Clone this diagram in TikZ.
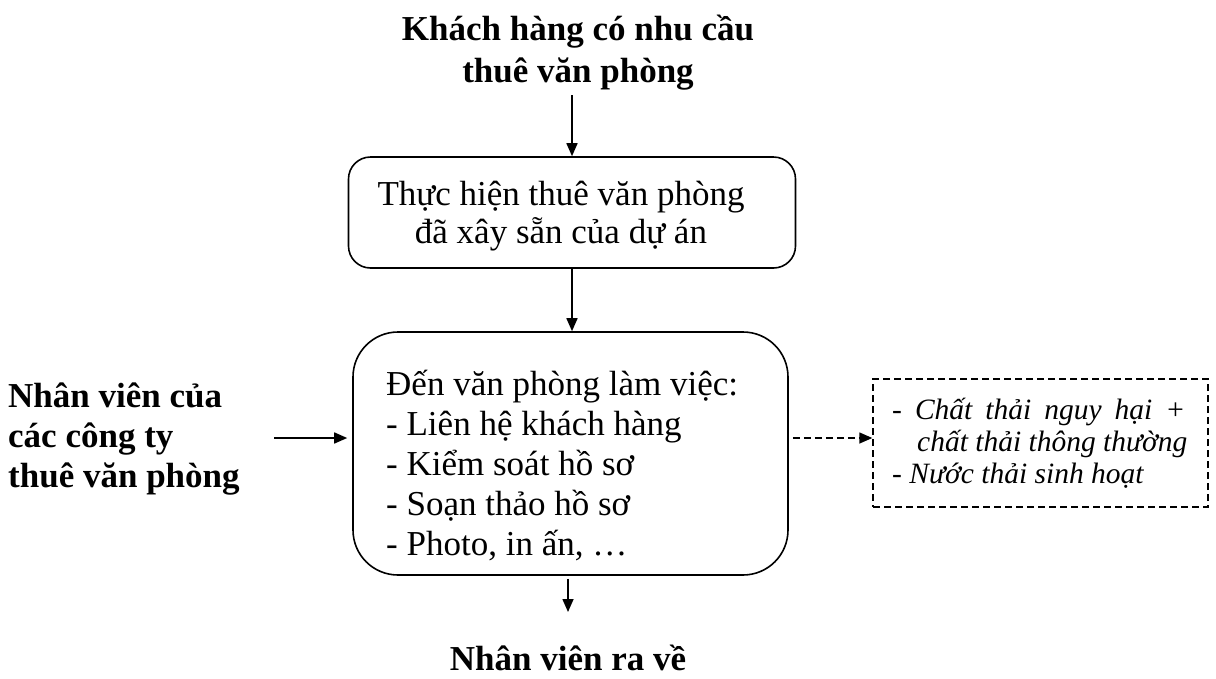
\documentclass[tikz,border=0pt]{standalone}
\usepackage{fontspec}
\setmainfont{Liberation Serif}
\usetikzlibrary{arrows.meta}
\begin{document}
\begin{tikzpicture}[x=1pt,y=-1pt,
  procbox/.style={draw, line width=1.6pt, rounded corners=#1, inner sep=0pt},
  outbox/.style={draw, line width=1.4pt, dash pattern=on 7pt off 4pt, inner sep=0pt},
  flow/.style={line width=1.6pt, -{Triangle[length=13pt,width=11pt]}},
  dflow/.style={line width=1.4pt, dash pattern=on 7pt off 4pt, -{Triangle[length=13pt,width=11pt]}},
  headtxt/.style={font=\fontsize{35}{42}\selectfont\bfseries, align=center, inner sep=0pt},
  sidetxt/.style={font=\fontsize{35}{40}\selectfont\bfseries, align=left, inner sep=0pt},
  bodytxt/.style={font=\fontsize{35}{38}\selectfont, align=center, inner sep=0pt},
  listtxt/.style={font=\fontsize{35}{40}\selectfont, align=left, inner sep=0pt},
  outtxt/.style={font=\fontsize{29.5}{32}\selectfont\itshape, align=left, inner sep=0pt}
]
\useasboundingbox (0,0) rectangle (1216,678);

% headings and side labels
\node[headtxt] (client) at (578,53) {Khách hàng có nhu cầu\\thuê văn phòng};
\node[sidetxt, anchor=west] (staff) at (8,439) {Nhân viên của\\các công ty\\thuê văn phòng};
\node[headtxt] (leave) at (568,658) {Nhân viên ra về};

% process boxes
\node[procbox=22pt, minimum width=447pt, minimum height=111pt] (rent) at (572,212.5) {};
\node[bodytxt] (renttxt) at (561,216) {Thực hiện thuê văn phòng\\đã xây sẵn của dự án};

\node[procbox=45pt, minimum width=435pt, minimum height=243pt] (work) at (570.5,453.5) {};
\node[listtxt, anchor=west] (worktxt) at (386,466) {Đến văn phòng làm việc:\\- Liên hệ khách hàng\\- Kiểm soát hồ sơ\\- Soạn thảo hồ sơ\\- Photo, in ấn, \dots};

% waste output
\node[outbox, minimum width=335pt, minimum height=128pt] (waste) at (1040.5,443) {};
\node[outtxt, anchor=west] (wastetxt) at (892,443.5) {\makebox[293pt][s]{- Chất thải nguy hại +}\\
  \hspace*{25pt}chất thải thông thường\\- Nước thải sinh hoạt};

% connectors
\coordinate (clientend) at (572,95);
\coordinate (staffend) at (274,438);
\coordinate (leaveend) at (568,612);
\draw[flow] (clientend) -- (clientend |- rent.north);
\draw[flow] (clientend |- rent.south) -- (clientend |- work.north);
\draw[flow, shorten >=5pt] (staffend) -- (work.west |- staffend);
\draw[dflow, shorten <=4pt] (work.east |- staffend) -- (waste.west |- staffend);
\draw[flow, shorten <=3pt] (work.south -| leaveend) -- (leaveend);
\end{tikzpicture}
\end{document}
